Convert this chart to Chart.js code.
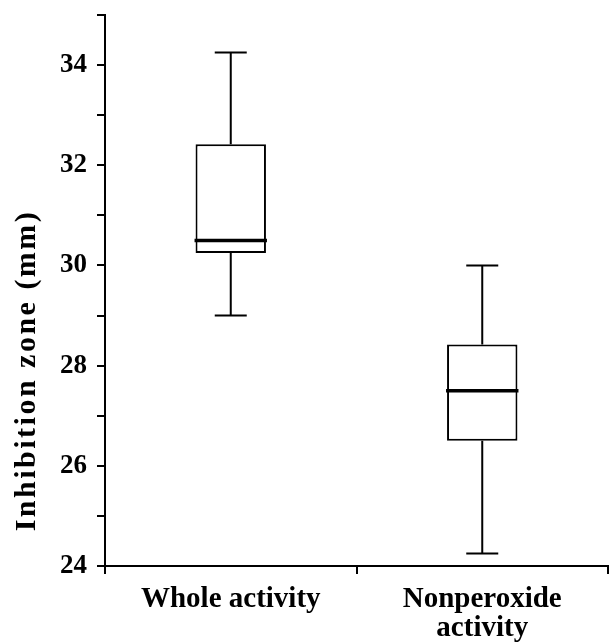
<!DOCTYPE html>
<html lang="en">
  <head>
    <meta charset="UTF-8" />
    <title>Inhibition zone</title>
    <script src="https://cdn.jsdelivr.net/npm/chart.js"></script>
    <style>
      html, body { margin: 0; padding: 0; background: #fff; }
      #wrap { width: 609px; height: 643px; }
    </style>
  </head>
  <body>
    <div id="wrap"><canvas id="myChart"></canvas></div>
    <script>
// valores
const categorias = ["Whole activity", ["Nonperoxide", "activity"]];
const minimos = [29.0, 24.25];
const q1 = [30.25, 26.5];
const medianas = [30.5, 27.5];
const q3 = [32.42, 28.42];
const maximos = [34.25, 30.0];

const fonte = "'Liberation Serif', 'Times New Roman', serif";

// desenha bigodes e mediana usando as escalas do chart
const boxPlugin = {
  id: "boxExtras",
  afterLayout(chart) {
    const ys = chart.scales.y;
    if (!ys._patched) {
      const orig = ys.drawTitle;
      ys.drawTitle = function () {
        const ctx = this.ctx;
        ctx.save();
        ctx.letterSpacing = "2.5px";
        ctx.translate(0, 80);
        orig.apply(this, arguments);
        ctx.restore();
      };
      ys._patched = true;
    }
  },
  afterDatasetsDraw(chart) {
    const ctx = chart.ctx;
    const y = chart.scales.y;
    const meta = chart.getDatasetMeta(0);
    ctx.save();
    ctx.strokeStyle = "#000";
    meta.data.forEach((bar, i) => {
      const x = bar.x;
      const w = bar.width;
      ctx.lineWidth = 2;
      ctx.beginPath();
      ctx.moveTo(x, y.getPixelForValue(q3[i]));
      ctx.lineTo(x, y.getPixelForValue(maximos[i]));
      ctx.moveTo(x, y.getPixelForValue(q1[i]));
      ctx.lineTo(x, y.getPixelForValue(minimos[i]));
      ctx.moveTo(x - 16, y.getPixelForValue(maximos[i]));
      ctx.lineTo(x + 16, y.getPixelForValue(maximos[i]));
      ctx.moveTo(x - 16, y.getPixelForValue(minimos[i]));
      ctx.lineTo(x + 16, y.getPixelForValue(minimos[i]));
      ctx.stroke();
      ctx.lineWidth = 3.5;
      ctx.beginPath();
      ctx.moveTo(x - w / 2 - 1, y.getPixelForValue(medianas[i]));
      ctx.lineTo(x + w / 2 + 1, y.getPixelForValue(medianas[i]));
      ctx.stroke();
    });
    ctx.restore();
  }
};

const ctx = document.getElementById("myChart");
new Chart(ctx, {
  type: "bar",
  data: {
    labels: categorias,
    datasets: [{
      data: q1.map((v, i) => [v, q3[i]]),
      backgroundColor: "#fff",
      borderColor: "#000",
      borderWidth: 2,
      borderSkipped: false,
      barPercentage: 0.28,
      categoryPercentage: 1
    }]
  },
  options: {
    responsive: true,
    maintainAspectRatio: false,
    animation: false,
    layout: { padding: { top: 15, right: 1, left: 0, bottom: 0 } },
    plugins: {
      legend: { display: false },
      tooltip: { enabled: false }
    },
    scales: {
      x: {
        offset: true,
        grid: { offset: true, drawOnChartArea: false, color: "#000", lineWidth: 2, tickLength: 8 },
        border: { display: true, color: "#000", width: 2 },
        ticks: {
          color: "#000",
          padding: 11,
          maxRotation: 0,
          font: { family: fonte, size: 29, weight: "bold", lineHeight: 1.0 }
        },
        afterFit(scale) { scale.height = 77; }
      },
      y: {
        min: 24,
        max: 35,
        grid: { drawOnChartArea: false, color: "#000", lineWidth: 2, tickLength: 8 },
        border: { display: true, color: "#000", width: 2 },
        ticks: {
          stepSize: 1,
          autoSkip: false,
          color: "#000",
          padding: 10,
          font: { family: fonte, size: 27, weight: "bold" },
          callback: v => (v % 2 === 0 ? v : "")
        },
        title: {
          display: true,
          text: "Inhibition zone (mm)",
          color: "#000",
          padding: { top: 9, bottom: 0 },
          font: { family: fonte, size: 30, weight: "bold" }
        },
        afterFit(scale) {
          scale.width = 105;
          scale.paddingTop = 0;
        }
      }
    }
  },
  plugins: [boxPlugin]
});
    </script>
  </body>
</html>
